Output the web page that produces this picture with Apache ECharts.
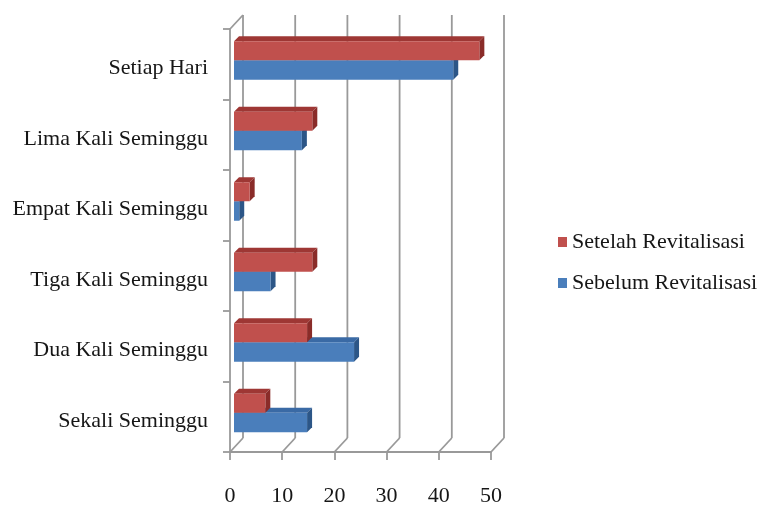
<!DOCTYPE html>
<html>
<head>
<meta charset="utf-8">
<script src="https://cdn.jsdelivr.net/npm/echarts@6/dist/echarts.min.js"></script>
<style>
  html, body { margin: 0; padding: 0; background: #fff; }
  #chart { width: 763px; height: 507px; }
</style>
</head>
<body>
<div id="chart"></div>
<script>
// Frequency categories, bottom to top
const categories = [
  'Sekali Seminggu',
  'Dua Kali Seminggu',
  'Tiga Kali Seminggu',
  'Empat Kali Seminggu',
  'Lima Kali Seminggu',
  'Setiap Hari'
];
// Percentages per category (same order as categories)
const setelah = [6, 14, 15, 3, 15, 47];
const sebelum = [14, 23, 7, 1, 13, 42];
const xTicks = [0, 10, 20, 30, 40, 50];

const FONT = '"Liberation Serif", "Times New Roman", serif';
const TEXT_COLOR = '#161616';
const GRID_COLOR = '#999999';
// depth offset of the back wall relative to the front plane
const WALL_DX = 13, WALL_DY = -14;
// depth of each bar block
const BAR_DX = 5, BAR_DY = -5;

// Builds a 3D-looking horizontal bar: front face, top lip and right side
function barRenderer(offTop, offBot, face, top, side) {
  return function (params, api) {
    const v = api.value(0);
    const cat = api.value(1);
    const p0 = api.coord([0, cat]);
    const p1 = api.coord([v, cat]);
    const x0 = p0[0] + 4, x1 = p1[0] + 4;
    const y0 = p0[1] + offTop, y1 = p0[1] + offBot;
    return {
      type: 'group',
      children: [
        {
          type: 'polygon',
          shape: { points: [[x0, y0], [x1, y0], [x1 + BAR_DX, y0 + BAR_DY], [x0 + BAR_DX, y0 + BAR_DY]] },
          style: { fill: top }
        },
        {
          type: 'polygon',
          shape: { points: [[x1, y0], [x1 + BAR_DX, y0 + BAR_DY], [x1 + BAR_DX, y1 + BAR_DY], [x1, y1]] },
          style: { fill: side }
        },
        {
          type: 'rect',
          shape: { x: x0, y: y0, width: x1 - x0, height: y1 - y0 },
          style: { fill: face }
        }
      ]
    };
  };
}

// Back wall gridlines and floor diagonals for each value tick
function frameRenderer(params, api) {
  const t = api.value(0);
  const cs = params.coordSys;
  const top = cs.y, bottom = cs.y + cs.height;
  const px = api.coord([t, 0])[0];
  const lineStyle = { stroke: GRID_COLOR, lineWidth: 1.8, fill: null };
  const children = [
    { type: 'line', shape: { x1: px + WALL_DX, y1: top + WALL_DY, x2: px + WALL_DX, y2: bottom + WALL_DY }, style: lineStyle },
    { type: 'line', shape: { x1: px, y1: bottom, x2: px + WALL_DX, y2: bottom + WALL_DY }, style: lineStyle }
  ];
  if (t === 0) {
    children.push({ type: 'line', shape: { x1: px, y1: top, x2: px + WALL_DX, y2: top + WALL_DY }, style: lineStyle });
  }
  return { type: 'group', children: children };
}

const chart = echarts.init(document.getElementById('chart'), null, { renderer: 'canvas' });

chart.setOption({
  animation: false,
  backgroundColor: '#ffffff',
  grid: { left: 230, right: 272, top: 29, bottom: 50, containLabel: false },
  legend: {
    orient: 'vertical',
    left: 553,
    top: 226,
    itemWidth: 9,
    itemHeight: 10,
    itemGap: 19,
    icon: 'rect',
    data: ['Setelah Revitalisasi', 'Sebelum Revitalisasi'],
    textStyle: { fontFamily: FONT, fontSize: 22, color: TEXT_COLOR }
  },
  xAxis: {
    type: 'value',
    min: 0,
    max: 50,
    interval: 10,
    axisLine: { show: true, lineStyle: { color: GRID_COLOR, width: 1.8 } },
    axisTick: { show: true, length: 8, lineStyle: { color: GRID_COLOR, width: 1.8 } },
    splitLine: { show: false },
    axisLabel: {
      margin: 33,
      fontFamily: FONT,
      fontSize: 22,
      color: TEXT_COLOR,
      formatter: function (v) { return xTicks.indexOf(v) >= 0 ? String(v) : ''; }
    }
  },
  yAxis: {
    type: 'category',
    data: categories,
    axisLine: { show: true, lineStyle: { color: GRID_COLOR, width: 1.8 } },
    axisTick: { show: true, length: 7, lineStyle: { color: GRID_COLOR, width: 1.8 } },
    splitLine: { show: false },
    axisLabel: {
      margin: 22,
      formatter: function (v) { return '{t|' + v + '}'; },
      rich: {
        t: {
          fontFamily: FONT,
          fontSize: 22,
          color: TEXT_COLOR,
          lineHeight: 30,
          verticalAlign: 'bottom'
        }
      }
    }
  },
  series: [
    {
      name: 'frame',
      type: 'custom',
      z: 1,
      silent: true,
      renderItem: frameRenderer,
      encode: { x: 0 },
      data: xTicks.map(function (t) { return [t, 0]; })
    },
    {
      name: 'Sebelum Revitalisasi',
      type: 'custom',
      z: 2,
      itemStyle: { color: '#4A7EBB' },
      renderItem: barRenderer(-4, 15.5, '#4A7EBB', '#3A6AA5', '#2C5687'),
      encode: { x: 0, y: 1 },
      data: sebelum.map(function (v, i) { return [v, i]; })
    },
    {
      name: 'Setelah Revitalisasi',
      type: 'custom',
      z: 3,
      itemStyle: { color: '#C0504D' },
      renderItem: barRenderer(-23, -4, '#C0504D', '#9E3734', '#8A2C29'),
      encode: { x: 0, y: 1 },
      data: setelah.map(function (v, i) { return [v, i]; })
    }
  ]
});
</script>
</body>
</html>
